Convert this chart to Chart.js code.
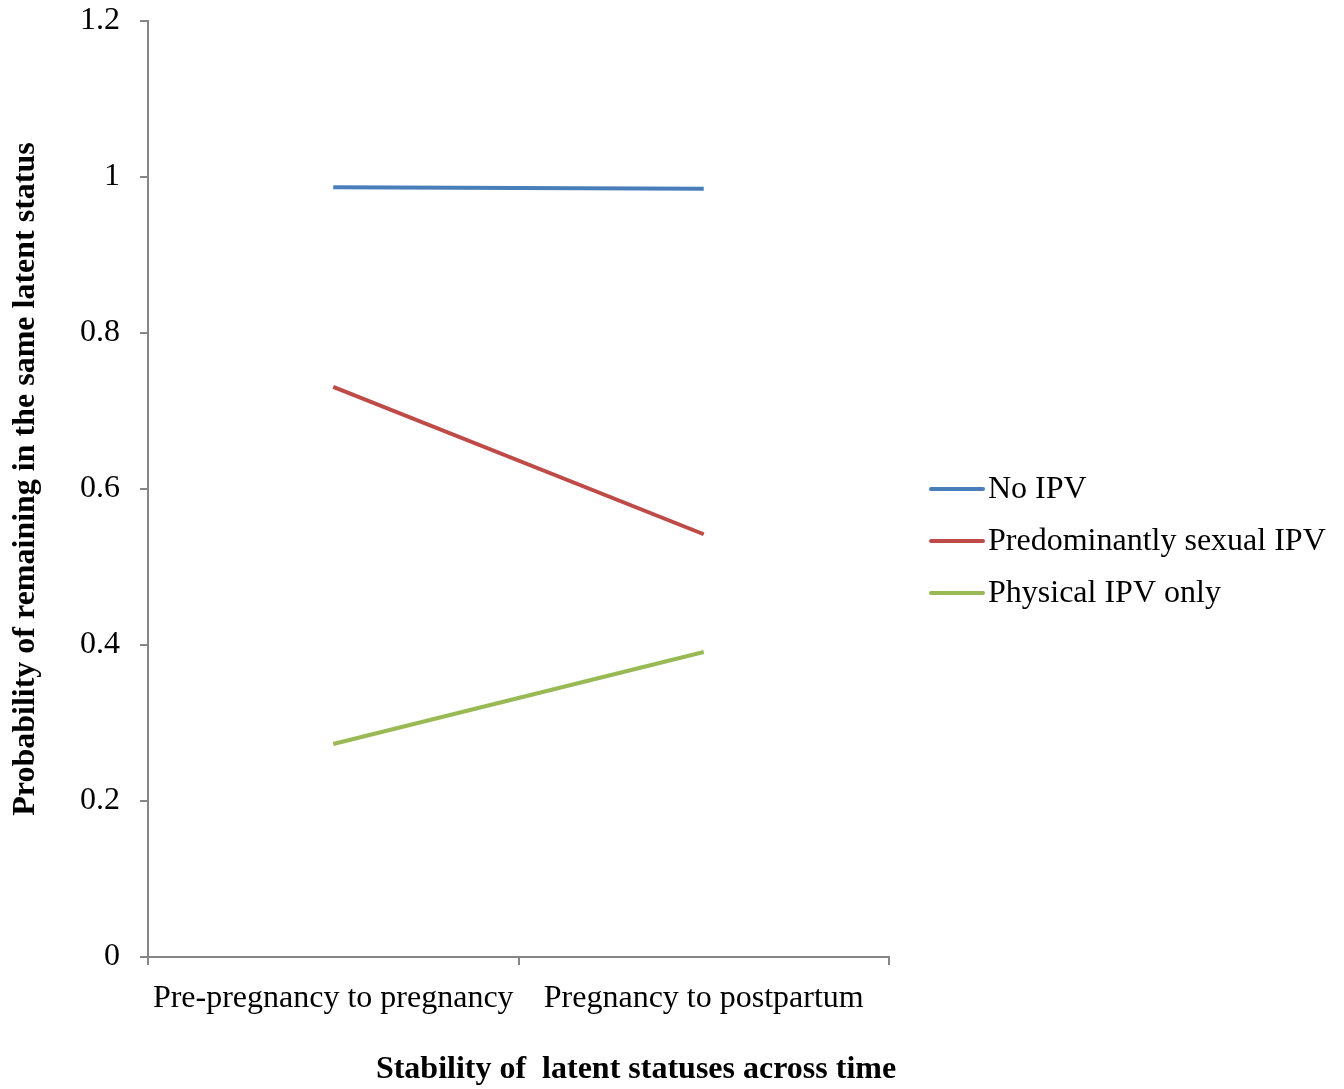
<!DOCTYPE html>
<html>
<head>
<meta charset="utf-8">
<script src="https://cdn.jsdelivr.net/npm/chart.js@4"></script>
<style>
html,body{margin:0;padding:0;background:#fff;}
#wrap{width:1344px;height:1089px;position:relative;}
</style>
</head>
<body>
<div id="wrap"><canvas id="c" width="1344" height="1089"></canvas></div>
<script>
const categories = ["Pre-pregnancy to pregnancy", "Pregnancy to postpartum"];
const seriesNames = ["No IPV", "Predominantly sexual IPV", "Physical IPV only"];
const noIPV = [0.987, 0.985];
const sexualIPV = [0.731, 0.542];
const physicalIPV = [0.273, 0.391];
const yTicks = [0, 0.2, 0.4, 0.6, 0.8, 1, 1.2];
const colors = ["#4A7EBB", "#BE4B48", "#98B954"];
const xTitle = "Stability of  latent statuses across time";
const yTitle = "Probability of remaining in the same latent status";

const FONT = "'Liberation Serif', 'Times New Roman', serif";
const FS = 32;
const axisGray = "#868686";

const legendPlugin = {
  id: 'customLegend',
  afterDraw(chart) {
    const ctx = chart.ctx;
    ctx.save();
    ctx.font = FS + "px " + FONT;
    ctx.textBaseline = 'middle';
    ctx.textAlign = 'left';
    const ys = [489, 541, 593];
    chart.data.datasets.forEach((ds, i) => {
      ctx.strokeStyle = ds.borderColor;
      ctx.lineWidth = 4;
      ctx.lineCap = 'round';
      ctx.beginPath();
      ctx.moveTo(931, ys[i]);
      ctx.lineTo(983, ys[i]);
      ctx.stroke();
      ctx.fillStyle = '#000';
      ctx.fillText(ds.label, 988, ys[i] + 1);
    });
    // axis titles
    ctx.font = "bold " + FS + "px " + FONT;
    ctx.textAlign = 'center';
    ctx.fillText(xTitle, 636, 1070);
    ctx.translate(26, 479);
    ctx.rotate(-Math.PI / 2);
    ctx.fillText(yTitle, 0, 0);
    ctx.restore();
  }
};

const datasets = [noIPV, sexualIPV, physicalIPV].map((d, i) => ({
  label: seriesNames[i],
  data: d,
  borderColor: colors[i],
  backgroundColor: colors[i],
  borderWidth: 4,
  pointRadius: 0,
  tension: 0,
  fill: false
}));

new Chart(document.getElementById('c'), {
  type: 'line',
  data: { labels: categories, datasets },
  options: {
    responsive: false,
    animation: false,
    layout: { padding: { left: 0, top: 21, right: 455, bottom: 0 } },
    plugins: { legend: { display: false }, tooltip: { enabled: false } },
    scales: {
      x: {
        offset: true,
        grid: { offset: true, drawOnChartArea: false, drawTicks: true, tickLength: 8, color: axisGray, lineWidth: 2 },
        border: { color: axisGray, width: 2 },
        ticks: { color: '#000', font: { family: FONT, size: FS }, padding: 14, maxRotation: 0, autoSkip: false },
        title: { display: false },
        afterFit(scale) { scale.height = 132; scale.paddingLeft = 0; scale.paddingRight = 0; }
      },
      y: {
        min: 0,
        max: 1.2,
        afterBuildTicks(scale) { scale.ticks = yTicks.map(v => ({ value: v })); },
        grid: { drawOnChartArea: false, drawTicks: true, tickLength: 8, color: axisGray, lineWidth: 2 },
        border: { color: axisGray, width: 2 },
        ticks: { color: '#000', font: { family: FONT, size: FS }, padding: 20, callback: v => String(+(+v).toFixed(1)) },
        title: { display: false },
        afterFit(scale) { scale.width = 148; scale.paddingTop = 0; scale.paddingBottom = 0; }
      }
    }
  },
  plugins: [legendPlugin]
});
</script>
</body>
</html>
